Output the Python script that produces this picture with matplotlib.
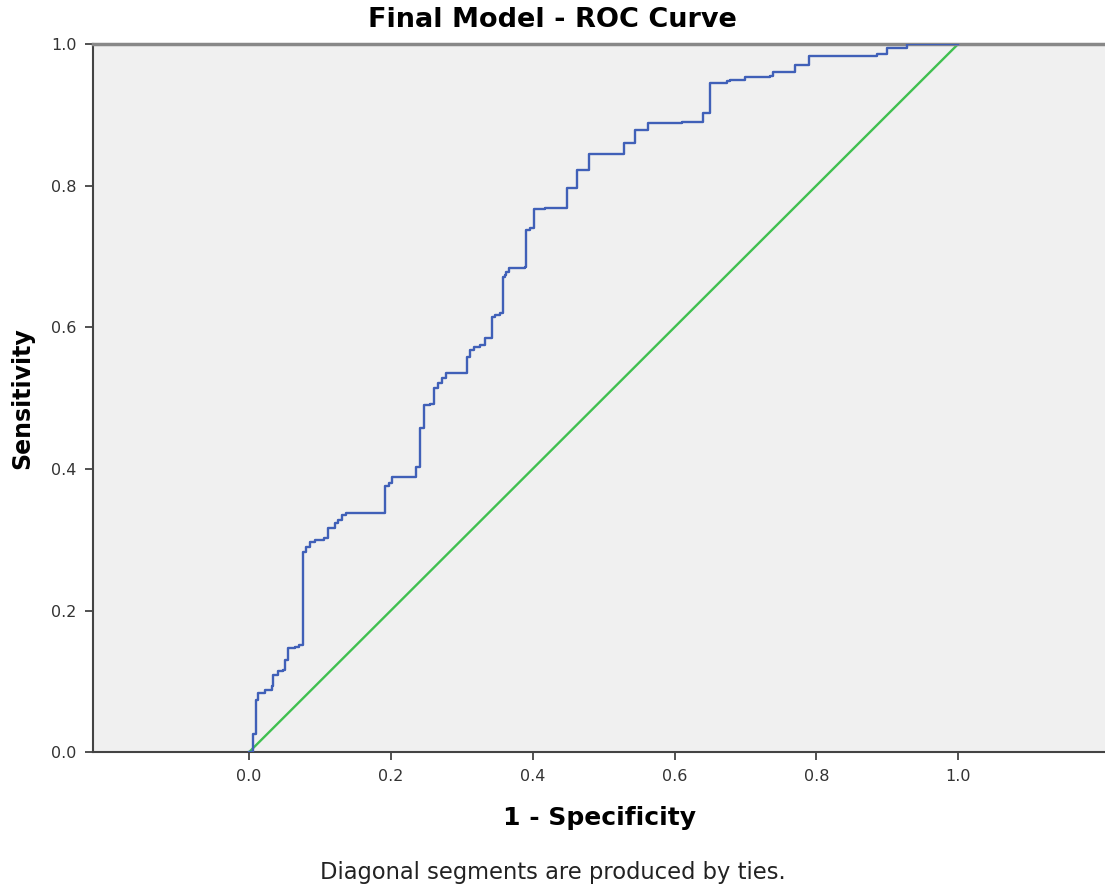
import numpy as np
import matplotlib
matplotlib.use("Agg")
import matplotlib.pyplot as plt

# ROC points (top of each vertical rise)
fpr = [0.000, 0.005, 0.010, 0.013, 0.022, 0.032, 0.034, 0.041, 0.048, 0.051,
       0.055, 0.065, 0.070, 0.076, 0.080, 0.086, 0.093, 0.105, 0.112, 0.121,
       0.126, 0.131, 0.137, 0.191, 0.197, 0.201, 0.236, 0.241, 0.246, 0.255,
       0.261, 0.267, 0.272, 0.278, 0.308, 0.312, 0.317, 0.326, 0.333, 0.342,
       0.347, 0.354, 0.358, 0.361, 0.363, 0.367, 0.389, 0.391, 0.396, 0.402,
       0.418, 0.448, 0.463, 0.479, 0.529, 0.544, 0.563, 0.610, 0.640, 0.650,
       0.674, 0.678, 0.700, 0.735, 0.739, 0.770, 0.789, 0.885, 0.900, 0.928,
       1.000]
tpr = [0.000, 0.026, 0.073, 0.083, 0.088, 0.093, 0.109, 0.114, 0.116, 0.130,
       0.147, 0.149, 0.151, 0.283, 0.290, 0.297, 0.300, 0.302, 0.316, 0.323,
       0.328, 0.335, 0.338, 0.376, 0.380, 0.389, 0.403, 0.458, 0.490, 0.492,
       0.514, 0.521, 0.528, 0.536, 0.558, 0.568, 0.572, 0.575, 0.585, 0.615,
       0.617, 0.620, 0.671, 0.674, 0.678, 0.683, 0.685, 0.737, 0.740, 0.767,
       0.769, 0.797, 0.822, 0.845, 0.860, 0.878, 0.888, 0.890, 0.903, 0.945,
       0.947, 0.949, 0.953, 0.955, 0.960, 0.970, 0.983, 0.986, 0.994, 1.000,
       1.000]
ref_line = [0.0, 1.0]
ticks = [0.0, 0.2, 0.4, 0.6, 0.8, 1.0]

fig = plt.figure(figsize=(11.05, 8.88), dpi=100)
ax = fig.add_axes([0.0842, 0.153, 0.9158, 0.7975])
ax.set_facecolor("#f0f0f0")

ax.plot(fpr, tpr, drawstyle="steps-post", color="#4060b8", lw=1.7, zorder=3)
ax.plot(ref_line, ref_line, color="#40c050", lw=1.7, zorder=2)

ax.set_xlim(-0.22, 1.207)
ax.set_ylim(0, 1)
ax.set_xticks(ticks)
ax.set_yticks(ticks)
ax.set_xticklabels(["%.1f" % t for t in ticks])
ax.set_yticklabels(["%.1f" % t for t in ticks])
ax.tick_params(direction="out", length=6, width=1.2, colors="#333333",
               labelsize=11.5, pad=6)

for side in ["left", "bottom"]:
    ax.spines[side].set_color("#444444")
    ax.spines[side].set_linewidth(1.5)
ax.spines["top"].set_color("#888888")
ax.spines["top"].set_linewidth(2.5)
ax.spines["right"].set_visible(False)

fig.text(0.5, 0.977, "Final Model - ROC Curve", ha="center", va="center",
         fontsize=19.5, fontweight="bold")
ax.set_xlabel("1 - Specificity", fontsize=18, fontweight="bold", labelpad=16)
ax.set_ylabel("Sensitivity", fontsize=17, fontweight="bold", labelpad=12)
fig.text(0.5, 0.018, "Diagonal segments are produced by ties.", ha="center",
         va="center", fontsize=16.3, color="#222222")

fig.savefig("out.png", dpi=100)
